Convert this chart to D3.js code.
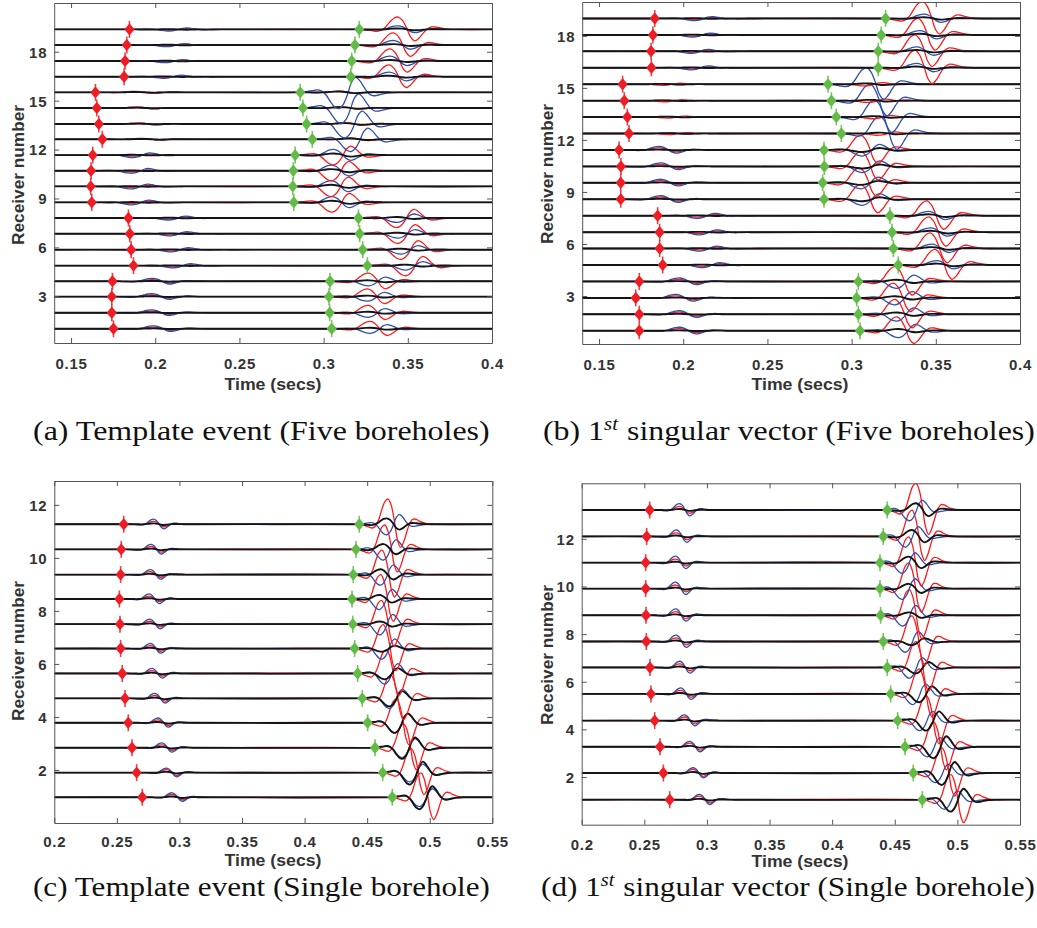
<!DOCTYPE html>
<html>
<head>
<meta charset="utf-8">
<script src="https://cdn.jsdelivr.net/npm/d3@7"></script>
<style>
  html, body { margin: 0; padding: 0; background: #fff; }
  svg { display: block; }
</style>
</head>
<body>
<svg id="fig" width="1037" height="928"></svg>
<script>
// ---------------- data ----------------
// Common wavelet: offsets (ms) from the main lobe and normalised amplitude
const waveletOffsetsMs = [-25, -20, -15, -12.5, -10, -7.5, -5, -2.5, 0, 2.5, 5, 7.5, 10, 12.5, 15, 17.5, 20, 22.5, 25, 30, 35];
const waveletShape     = [0, -0.03, -0.12, -0.15, -0.07, 0.18, 0.58, 0.9, 1.0, 0.75, 0.15, -0.62, -0.92, -0.7, -0.3, 0.05, 0.2, 0.19, 0.12, 0.03, 0];

// Axis ticks
const fiveTimeTicks   = [0.15, 0.2, 0.25, 0.3, 0.35, 0.4];
const fiveTimeLabels  = ["0.15", "0.2", "0.25", "0.3", "0.35", "0.4"];
const fiveRecvTicks   = [3, 6, 9, 12, 15, 18];
const fiveRecvLabels  = ["3", "6", "9", "12", "15", "18"];
const singleTimeTicks  = [0.2, 0.25, 0.3, 0.35, 0.4, 0.45, 0.5, 0.55];
const singleTimeLabels = ["0.2", "0.25", "0.3", "0.35", "0.4", "0.45", "0.5", "0.55"];
const singleRecvTicks  = [2, 4, 6, 8, 10, 12];
const singleRecvLabels = ["2", "4", "6", "8", "10", "12"];

// (a) Template event, five boreholes: receiver offsets, P and S picks (s)
const aReceiverY = [1.01, 1.99, 2.98, 3.92, 4.88, 5.86, 6.84, 7.80, 8.76, 9.74, 10.70, 11.66, 12.63, 13.57, 14.55, 15.51, 16.47, 17.43, 18.41, 19.37];
const aPickP = [0.1752, 0.1742, 0.1742, 0.1746, 0.1871, 0.1857, 0.1849, 0.1841, 0.1623, 0.1617, 0.1619, 0.1629, 0.1686, 0.1665, 0.1653, 0.1645, 0.1815, 0.1821, 0.1831, 0.1847];
const aPickS = [0.3048, 0.3036, 0.3032, 0.3038, 0.3260, 0.3232, 0.3214, 0.3207, 0.2823, 0.2817, 0.2820, 0.2831, 0.2933, 0.2899, 0.2877, 0.2861, 0.3161, 0.3167, 0.3186, 0.3212];
const aP_red   = [0.10, 0.10, 0.10, 0.10, -0.07, -0.07, -0.07, -0.07, -0.06, -0.06, -0.06, -0.06, 0.06, 0.06, 0.06, 0.06, -0.05, -0.05, -0.05, -0.05];
const aP_blue  = [0.18, 0.18, 0.18, 0.18, -0.13, -0.13, -0.13, -0.13, -0.15, -0.15, -0.15, -0.15, 0.02, 0.02, 0.02, 0.02, -0.10, -0.10, -0.10, -0.10];
const aP_black = [0.02, 0.02, 0.02, 0.02, 0.02, 0.02, 0.02, 0.02, 0.02, 0.02, 0.02, 0.02, 0.02, 0.02, 0.02, 0.02, 0.02, 0.02, 0.02, 0.02];
const aS_red   = [0.45, 0.45, 0.47, 0.50, -0.62, -0.60, -0.60, -0.58, -0.60, -0.62, -0.62, -0.60, 0.08, 0.08, 0.07, 0.07, 0.72, 0.74, 0.75, 0.76];
const aS_blue  = [-0.28, -0.28, -0.28, -0.28, -0.27, -0.27, -0.27, -0.27, 0.35, 0.35, 0.35, 0.35, -0.75, -0.85, -0.95, -1.00, 0.28, 0.30, 0.28, 0.22];
const aS_black = [0.06, 0.06, 0.06, 0.06, 0.06, 0.06, 0.06, 0.06, 0.10, 0.10, 0.10, 0.10, 0.05, 0.05, 0.05, 0.05, 0.06, 0.06, 0.06, 0.06];
const aLagP = [0.024, 0.024, 0.024];
const aLagS = [0.023, 0.023, 0.023];

// (b) 1st singular vector, five boreholes
const bReceiverY = [1.00, 1.95, 2.89, 3.84, 4.79, 5.74, 6.68, 7.63, 8.58, 9.53, 10.47, 11.42, 12.37, 13.32, 14.26, 15.21, 16.16, 17.11, 18.05, 19.00];
const bPickP = [0.1739, 0.1739, 0.1718, 0.1739, 0.1878, 0.1860, 0.1860, 0.1848, 0.1629, 0.1629, 0.1630, 0.1619, 0.1678, 0.1668, 0.1650, 0.1640, 0.1811, 0.1809, 0.1820, 0.1831];
const bPickS = [0.3050, 0.3040, 0.3030, 0.3040, 0.3277, 0.3248, 0.3240, 0.3228, 0.2836, 0.2828, 0.2838, 0.2836, 0.2939, 0.2909, 0.2880, 0.2860, 0.3158, 0.3158, 0.3176, 0.3202];
const bP_red   = [0.12, 0.12, 0.12, 0.12, -0.08, -0.08, -0.08, -0.08, 0.12, 0.12, 0.12, 0.12, -0.06, -0.06, -0.06, -0.06, -0.06, -0.06, -0.06, -0.06];
const bP_blue  = [0.20, 0.20, 0.20, 0.20, -0.15, -0.15, -0.15, -0.15, 0.20, 0.20, 0.20, 0.20, 0.02, 0.02, 0.02, 0.02, -0.12, -0.12, -0.12, -0.12];
const bP_black = [0.02, 0.02, 0.02, 0.02, 0.02, 0.02, 0.02, 0.02, 0.02, 0.02, 0.02, 0.02, 0.02, 0.02, 0.02, 0.02, 0.02, 0.02, 0.02, 0.02];
const bS_red   = [0.80, 0.85, 0.85, 0.85, 0.90, 0.90, 0.88, 0.85, 0.85, 0.85, 0.85, 0.85, -0.10, -0.10, -0.10, -0.10, 1.00, 0.95, 0.95, 0.98];
const bS_blue  = [-0.40, -0.40, -0.40, -0.40, 0.25, 0.25, 0.25, 0.25, -0.35, -0.35, -0.35, -0.35, 1.00, 0.98, 0.95, 0.95, 0.25, 0.25, 0.25, 0.25];
const bS_black = [0.10, 0.10, 0.10, 0.10, 0.08, 0.08, 0.08, 0.08, -0.12, -0.12, -0.12, -0.12, 0.05, 0.05, 0.05, 0.05, 0.07, 0.07, 0.07, 0.07];
const bLagP = [0.024, 0.024, 0.024];
const bLagS = [0.022, 0.023, 0.023];

// (c) Template event, single borehole
const cReceiverY = [0.97, 1.90, 2.84, 3.78, 4.70, 5.64, 6.58, 7.50, 8.45, 9.37, 10.32, 11.27];
const cPickP = [0.2703, 0.2658, 0.2621, 0.2591, 0.2565, 0.2543, 0.2530, 0.2525, 0.2520, 0.2530, 0.2535, 0.2555];
const cPickS = [0.4701, 0.4624, 0.4563, 0.4504, 0.4461, 0.4424, 0.4400, 0.4385, 0.4379, 0.4389, 0.4411, 0.4437];
const cP_red   = [0.11, 0.11, 0.11, 0.11, 0.11, 0.11, 0.11, 0.11, 0.11, 0.11, 0.11, 0.11];
const cP_blue  = [0.17, 0.17, 0.18, 0.18, 0.19, 0.19, 0.19, 0.19, 0.19, 0.19, 0.19, 0.19];
const cP_black = [0.03, 0.03, 0.03, 0.03, 0.03, 0.03, 0.03, 0.03, 0.03, 0.03, 0.03, 0.03];
const cS_red   = [0.92, 0.90, 0.90, 0.90, 0.88, 0.90, 0.90, 0.90, 0.92, 0.92, 0.92, 0.95];
const cS_blue  = [-0.35, -0.35, -0.37, -0.38, -0.38, -0.40, -0.40, -0.40, -0.40, -0.40, -0.40, -0.40];
const cS_black = [-0.45, -0.45, -0.42, -0.38, -0.30, -0.22, -0.12, 0.10, 0.15, 0.20, 0.20, 0.22];
const cLagP = [0.024, 0.024, 0.024];
const cLagS = [0.023, 0.022, 0.022];

// (d) 1st singular vector, single borehole
const dReceiverY = [1.05, 2.17, 3.27, 4.37, 5.49, 6.60, 7.69, 8.79, 9.91, 11.00, 12.10, 13.21];
const dPickP = [0.2703, 0.2652, 0.2625, 0.2583, 0.2553, 0.2545, 0.2516, 0.2513, 0.2511, 0.2511, 0.2519, 0.2543];
const dPickS = [0.4720, 0.4648, 0.4582, 0.4523, 0.4467, 0.4440, 0.4408, 0.4387, 0.4382, 0.4382, 0.4408, 0.4440];
const dP_red   = [0.15, 0.15, 0.15, 0.15, 0.15, 0.15, 0.15, 0.15, 0.15, 0.15, 0.15, 0.15];
const dP_blue  = [0.22, 0.22, 0.23, 0.24, 0.25, 0.26, 0.27, 0.27, 0.27, 0.27, 0.27, 0.27];
const dP_black = [0.04, 0.04, 0.04, 0.04, 0.04, 0.04, 0.04, 0.04, 0.04, 0.04, 0.04, 0.04];
const dS_red   = [1.05, 1.05, 1.05, 1.05, 1.05, 1.08, 1.08, 1.08, 1.08, 1.08, 1.10, 1.12];
const dS_blue  = [-0.40, -0.40, -0.42, -0.42, -0.45, -0.45, -0.45, -0.45, -0.45, -0.45, -0.45, -0.45];
const dS_black = [-0.50, -0.50, -0.48, -0.42, -0.35, -0.25, -0.15, 0.12, 0.20, 0.25, 0.27, 0.28];
const dLagP = [0.024, 0.024, 0.024];
const dLagS = [0.023, 0.018, 0.023];

// Sub-figure captions (middle entry is a superscript)
const captionA = ["(a) Template event (Five boreholes)"];
const captionB = ["(b) 1", "st", " singular vector (Five boreholes)"];
const captionC = ["(c) Template event (Single borehole)"];
const captionD = ["(d) 1", "st", " singular vector (Single borehole)"];

// ---------------- layout ----------------
const panels = [
  { box: [54.2, 3, 492, 343], xDom: [0.14, 0.40], yDom: [0.136, 20.99],
    xt: fiveTimeTicks, xl: fiveTimeLabels, yt: fiveRecvTicks, yl: fiveRecvLabels,
    recv: aReceiverY, pickP: aPickP, pickS: aPickS,
    P: [aP_red, aP_blue, aP_black], S: [aS_red, aS_blue, aS_black],
    lagP: aLagP, lagS: aLagS, widthP: 1.0, widthS: 1.0,
    xlab: [273, 390], ylab: [23.5, 175], tickY: 26,
    cap: captionA, capX: [33, 490], capY: 440 },
  { box: [582.2, 2, 1020, 344], xDom: [0.14, 0.40], yDom: [0.234, 19.95],
    xt: fiveTimeTicks, xl: fiveTimeLabels, yt: fiveRecvTicks, yl: fiveRecvLabels,
    recv: bReceiverY, pickP: bPickP, pickS: bPickS,
    P: [bP_red, bP_blue, bP_black], S: [bS_red, bS_blue, bS_black],
    lagP: bLagP, lagS: bLagS, widthP: 1.0, widthS: 1.0,
    xlab: [800, 390], ylab: [552.5, 174], tickY: 26,
    cap: captionB, capX: [543, 1035], capY: 440 },
  { box: [54.3, 481, 492.3, 823], xDom: [0.2, 0.55], yDom: [0, 12.9],
    xt: singleTimeTicks, xl: singleTimeLabels, yt: singleRecvTicks, yl: singleRecvLabels,
    recv: cReceiverY, pickP: cPickP, pickS: cPickS,
    P: [cP_red, cP_blue, cP_black], S: [cS_red, cS_blue, cS_black],
    lagP: cLagP, lagS: cLagS, widthP: 0.8, widthS: 1.0,
    xlab: [273, 866], ylab: [23.5, 651], tickY: 24,
    cap: captionC, capX: [33, 490], capY: 896 },
  { box: [581.7, 483.3, 1020, 824.7], xDom: [0.2, 0.55], yDom: [0, 14.33],
    xt: singleTimeTicks, xl: singleTimeLabels, yt: singleRecvTicks, yl: singleRecvLabels,
    recv: dReceiverY, pickP: dPickP, pickS: dPickS,
    P: [dP_red, dP_blue, dP_black], S: [dS_red, dS_blue, dS_black],
    lagP: dLagP, lagS: dLagS, widthP: 0.8, widthS: 1.0,
    xlab: [800, 867], ylab: [552.5, 655], tickY: 25,
    cap: captionD, capX: [541, 1035], capY: 896 }
];

const compColors = ["#ff1a1a", "#2d4fb2", "#141414"];
const compWidths = [1.3, 1.3, 1.9];
const pickColors = ["#ee1d25", "#62bb46"];
const axisColor = "#555";
const labelFont = '"Liberation Sans", Arial, Helvetica, sans-serif';
const serifFont = '"Liberation Serif", "Times New Roman", serif';

const svg = d3.select("#fig");

panels.forEach((p, pi) => {
  const [x0, y0, x1, y1] = p.box;
  const x = d3.scaleLinear().domain(p.xDom).range([x0, x1]);
  const y = d3.scaleLinear().domain(p.yDom).range([y1, y0]);
  const g = svg.append("g");

  const clipId = "clip" + pi;
  g.append("clipPath").attr("id", clipId)
    .append("rect").attr("x", x0).attr("y", y0).attr("width", x1 - x0).attr("height", y1 - y0);

  const plot = g.append("g").attr("clip-path", `url(#${clipId})`);
  const line = d3.line()
    .x(d => x(d[0])).y(d => y(d[1]))
    .curve(d3.curveCatmullRom.alpha(0.5));

  // one receiver at a time, bottom to top: red, blue, then black component
  p.recv.forEach((base, i) => {
    for (let c = 0; c < 3; c++) {
      const tP = p.pickP[i] + p.lagP[c];
      const tS = p.pickS[i] + p.lagS[c];
      const aP = p.P[c][i];
      const aS = p.S[c][i];
      const pts = [[p.xDom[0], base]];
      waveletOffsetsMs.forEach((o, k) => pts.push([tP + o / 1000 * p.widthP, base + aP * waveletShape[k]]));
      waveletOffsetsMs.forEach((o, k) => pts.push([tS + o / 1000 * p.widthS, base + aS * waveletShape[k]]));
      pts.push([p.xDom[1], base]);
      plot.append("path")
        .attr("d", line(pts))
        .attr("fill", "none")
        .attr("stroke", compColors[c])
        .attr("stroke-width", compWidths[c])
        .attr("stroke-linejoin", "round");
    }
  });

  // P (red) and S (green) picks
  const marks = g.append("g");
  p.recv.forEach((base, i) => {
    [p.pickP[i], p.pickS[i]].forEach((t, k) => {
      const m = marks.append("g").attr("transform", `translate(${x(t)},${y(base)})`);
      m.append("path").attr("d", "M0,-8.5V8.5")
        .attr("stroke", pickColors[k]).attr("stroke-width", 1.6).attr("opacity", 0.85);
      m.append("path").attr("d", "M0,-5L4.2,0L0,5L-4.2,0Z")
        .attr("fill", pickColors[k]).attr("stroke", pickColors[k])
        .attr("stroke-width", 1.4).attr("stroke-linejoin", "round");
    });
  });

  // axes: box with inward ticks on all sides
  const styleAxis = sel => {
    sel.select(".domain").attr("stroke", axisColor).attr("stroke-width", 1);
    sel.selectAll(".tick line").attr("stroke", axisColor).attr("stroke-width", 1);
  };
  const bottom = g.append("g").attr("transform", `translate(0,${y1})`)
    .call(d3.axisBottom(x).tickValues(p.xt).tickFormat((d, i) => p.xl[i]).tickSizeInner(-5).tickSizeOuter(0))
    .call(styleAxis);
  bottom.selectAll(".tick text").attr("y", p.tickY).attr("dy", null);
  const left = g.append("g").attr("transform", `translate(${x0},0)`)
    .call(d3.axisLeft(y).tickValues(p.yt).tickFormat((d, i) => p.yl[i]).tickSizeInner(-5).tickSizeOuter(0).tickPadding(7))
    .call(styleAxis);
  left.selectAll(".tick text").attr("x", -7).attr("dy", "0.36em");
  g.append("g").attr("transform", `translate(0,${y0})`)
    .call(d3.axisTop(x).tickValues(p.xt).tickFormat("").tickSizeInner(-5).tickSizeOuter(0))
    .call(styleAxis);
  g.append("g").attr("transform", `translate(${x1},0)`)
    .call(d3.axisRight(y).tickValues(p.yt).tickFormat("").tickSizeInner(-5).tickSizeOuter(0))
    .call(styleAxis);

  g.selectAll(".tick text")
    .attr("fill", "#333")
    .style("font-family", labelFont)
    .style("font-weight", "bold")
    .style("font-size", "15px")
    .style("letter-spacing", "0.7px");

  // axis titles
  g.append("text")
    .attr("x", p.xlab[0]).attr("y", p.xlab[1])
    .attr("text-anchor", "middle")
    .attr("textLength", 97).attr("lengthAdjust", "spacingAndGlyphs")
    .attr("fill", "#333")
    .style("font-family", labelFont).style("font-weight", "bold").style("font-size", "16px")
    .text("Time (secs)");
  g.append("text")
    .attr("transform", `translate(${p.ylab[0]},${p.ylab[1]}) rotate(-90)`)
    .attr("text-anchor", "middle")
    .attr("textLength", 140).attr("lengthAdjust", "spacingAndGlyphs")
    .attr("fill", "#333")
    .style("font-family", labelFont).style("font-weight", "bold").style("font-size", "16.5px")
    .text("Receiver number");

  // sub-figure caption
  const cg = svg.append("g");
  let cx = 0;
  p.cap.forEach((part, k) => {
    const sup = p.cap.length === 3 && k === 1;
    const t = cg.append("text")
      .attr("x", cx).attr("y", sup ? -10 : 0)
      .attr("fill", "#111")
      .style("font-family", serifFont)
      .style("font-size", sup ? "18px" : "27.5px")
      .style("font-style", sup ? "italic" : "normal")
      .style("white-space", "pre")
      .text(part);
    cx += t.node().getComputedTextLength() + (sup ? 1 : 0);
  });
  const sx = (p.capX[1] - p.capX[0]) / cx;
  cg.attr("transform", `translate(${p.capX[0]},${p.capY}) scale(${sx},1)`);
});
</script>
</body>
</html>
